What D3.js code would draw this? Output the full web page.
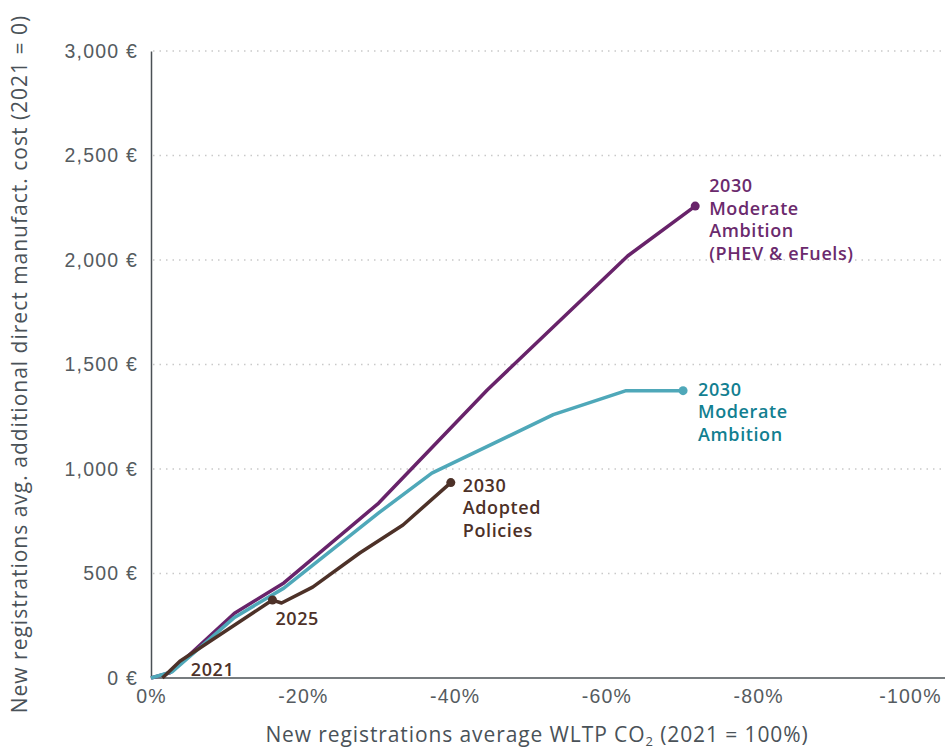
<!DOCTYPE html>
<html>
<head>
<meta charset="utf-8">
<script src="https://cdn.jsdelivr.net/npm/d3@7"></script>
<style>
  body { margin: 0; background: #fff; }
  svg { font-family: "Open Sans", Lato, sans-serif; }
  .tick text { fill: #555b60; font-size: 19.5px; font-weight: 300; letter-spacing: 1.2px; }
</style>
</head>
<body>
<div id="chart"></div>
<script>
// CO2 reduction vs. 2021 (%) and added cost (EUR)
var phevX = [0, -2.5, -11, -17.5, -30, -44.3, -62.8, -71.7]
var phevY = [0, 25, 310, 455, 837, 1378, 2019, 2258]

var modX = [0, -2.8, -11, -17.5, -30, -37, -53, -62.6, -70.1]
var modY = [0, 30, 290, 430, 790, 980, 1260, 1375, 1375]

var adoptX = [-1.5, -3.8, -16, -17.2, -21.3, -27.5, -33.2, -39.5]
var adoptY = [0, 80, 373, 359, 435, 598, 732, 935]

var yTicks = [0, 500, 1000, 1500, 2000, 2500, 3000]
var xTicks = [0, -20, -40, -60, -80, -100]

var series = [
	{ name: "phev", xs: phevX, ys: phevY, color: "#68236a", text: "#6b2a6d",
		label: ["2030", "Moderate", "Ambition", "(PHEV & eFuels)"], dx: 14, dy: -14 },
	{ name: "mod", xs: modX, ys: modY, color: "#4fa8b9", text: "#127f91",
		label: ["2030", "Moderate", "Ambition"], dx: 15, dy: 5 },
	{ name: "adopt", xs: adoptX, ys: adoptY, color: "#4d3128", text: "#4d3128",
		label: ["2030", "Adopted", "Policies"], dx: 12, dy: 9 }
]

function draw() {
	var width = 945
	var height = 751
	var mLeft = 151, mTop = 51, mRight = 910, mBottom = 678

	var svg = d3.select("#chart").append("svg")
		.attr("width", width)
		.attr("height", height)

	var x = d3.scaleLinear().domain([0, -100]).range([mLeft, mRight])
	var y = d3.scaleLinear().domain([0, 3000]).range([mBottom, mTop])

	// grid
	svg.append("g")
		.selectAll("line")
		.data(yTicks.slice(1))
		.join("line")
		.attr("x1", mLeft + 2).attr("x2", width)
		.attr("y1", function (d) { return y(d) }).attr("y2", function (d) { return y(d) })
		.attr("stroke", "#c9c9c9")
		.attr("stroke-width", 1.5)
		.attr("stroke-dasharray", "1.5,5")

	// axes
	var yAxis = svg.append("g")
		.attr("transform", "translate(" + mLeft + ",0)")
		.call(d3.axisLeft(y).tickValues(yTicks).tickSize(0).tickPadding(13)
			.tickFormat(function (d) { return d3.format(",")(d) + " €" }))
	yAxis.select(".domain").attr("stroke", "#4a5055").attr("stroke-width", 1.5)

	var xAxis = svg.append("g")
		.attr("transform", "translate(0," + mBottom + ")")
		.call(d3.axisBottom(x).tickValues(xTicks).tickSize(0).tickPadding(11)
			.tickFormat(function (d) { return d + "%" }))
	xAxis.select(".domain").remove()
	svg.append("line")
		.attr("x1", mLeft).attr("x2", width)
		.attr("y1", mBottom).attr("y2", mBottom)
		.attr("stroke", "#4a5055").attr("stroke-width", 1.5)

	// axis titles
	svg.append("text")
		.attr("transform", "translate(27," + 364 + ") rotate(-90)")
		.attr("text-anchor", "middle")
		.attr("fill", "#4a5258")
		.style("font-size", "21px")
		.style("font-weight", 500)
		.style("letter-spacing", "1px")
		.text("New registrations avg. additional direct manufact. cost (2021 = 0)")

	var xt = svg.append("text")
		.attr("x", 537).attr("y", 742)
		.attr("text-anchor", "middle")
		.attr("fill", "#4a5258")
		.style("font-size", "21px")
		.style("font-weight", 500)
		.style("letter-spacing", "0.9px")
	xt.append("tspan").text("New registrations average WLTP CO")
	xt.append("tspan").attr("dy", 4).style("font-size", "13px").text("2")
	xt.append("tspan").attr("dy", -4).text(" (2021 = 100%)")

	// lines
	var line = d3.line()
		.x(function (d) { return x(d[0]) })
		.y(function (d) { return y(d[1]) })

	series.forEach(function (s) {
		var pts = s.xs.map(function (v, i) { return [v, s.ys[i]] })
		svg.append("path")
			.datum(pts)
			.attr("fill", "none")
			.attr("stroke", s.color)
			.attr("stroke-width", 3.5)
			.attr("stroke-linejoin", "round")
			.attr("d", line)
		var last = pts[pts.length - 1]
		svg.append("circle")
			.attr("cx", x(last[0])).attr("cy", y(last[1]))
			.attr("r", 4.5).attr("fill", s.color)
		var t = svg.append("text")
			.attr("x", x(last[0]) + s.dx)
			.attr("y", y(last[1]) + s.dy)
			.attr("fill", s.text)
			.style("font-size", "18px")
			.style("font-weight", 600)
			.style("letter-spacing", "0.6px")
		s.label.forEach(function (l, i) {
			t.append("tspan").attr("x", x(last[0]) + s.dx).attr("dy", i == 0 ? 0 : 22.5).text(l)
		})
	})

	// 2025 point on adopted policies
	svg.append("circle")
		.attr("cx", x(adoptX[2])).attr("cy", y(adoptY[2]))
		.attr("r", 4.5).attr("fill", "#4d3128")
	svg.append("text")
		.attr("x", x(adoptX[2]) + 3).attr("y", y(adoptY[2]) + 25)
		.attr("fill", "#4d3128")
		.style("font-size", "18px").style("font-weight", 600).style("letter-spacing", "0.6px")
		.text("2025")
	svg.append("text")
		.attr("x", x(adoptX[1]) + 11).attr("y", y(0) - 2)
		.attr("fill", "#4d3128")
		.style("font-size", "18px").style("font-weight", 600).style("letter-spacing", "0.6px")
		.text("2021")
}

draw()
</script>
</body>
</html>
